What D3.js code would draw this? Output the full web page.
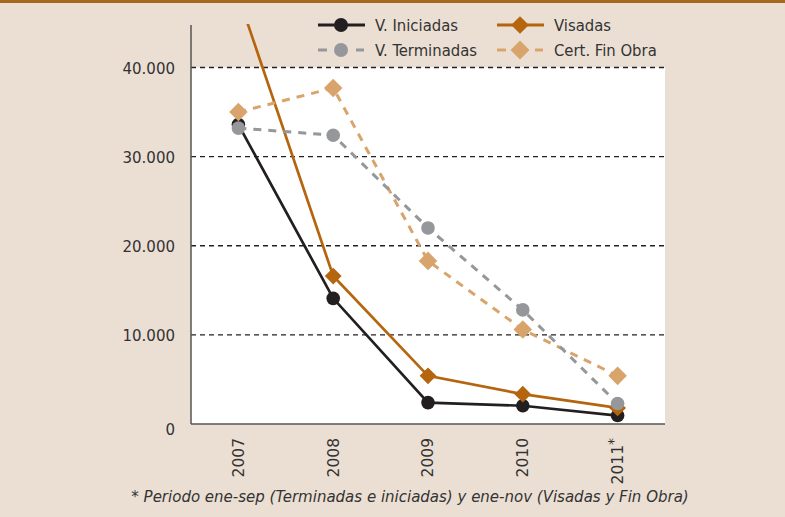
<!DOCTYPE html>
<meta charset="utf-8">
<style>
body { margin: 0; background: #ebdfd3; }
svg { display: block; }
.tick text { font-family: "DejaVu Sans", sans-serif; fill: #333; }
.legend text { font-family: "DejaVu Sans Condensed", "DejaVu Sans", sans-serif; font-size: 16.5px; fill: #333; }
.note { font-family: "DejaVu Sans", sans-serif; font-style: italic; font-size: 15px; fill: #333; }
</style>
<svg width="785" height="517"></svg>
<script src="https://d3js.org/d3.v7.min.js"></script>
<script>
var years = ["2007", "2008", "2009", "2010", "2011"];
var iniciadas = [33600, 14100, 2400, 2050, 950];
var visadas = [48000, 16600, 5400, 3350, 1800];
var terminadas = [33200, 32400, 22000, 12800, 2300];
var finObra = [35000, 37700, 18300, 10600, 5400];
var yTicks = [0, 10000, 20000, 30000, 40000];

var series = [
  {name: "V. Iniciadas", values: iniciadas, color: "#231f20", dash: null, shape: "circle"},
  {name: "Visadas", values: visadas, color: "#b5650e", dash: null, shape: "diamond"},
  {name: "Cert. Fin Obra", values: finObra, color: "#d9a46c", dash: "8,7", shape: "diamond"},
  {name: "V. Terminadas", values: terminadas, color: "#96979b", dash: "8,7", shape: "circle"}
];

var svg = d3.select("svg"),
    plotLeft = 191, plotRight = 665, plotTop = 24, plotBottom = 424;

var x = d3.scaleBand().domain(years).range([plotLeft, plotRight]);
var y = d3.scaleLinear().domain([0, 40000]).range([plotBottom, 67.5]);
var cx = function(i) { return x(years[i]) + x.bandwidth() / 2; };

// top band
svg.append("rect").attr("x", 0).attr("y", 0).attr("width", 785).attr("height", 3).attr("fill", "#a6671f");

// white plot area
svg.append("rect")
    .attr("x", plotLeft).attr("y", y(40000))
    .attr("width", plotRight - plotLeft).attr("height", plotBottom - y(40000))
    .attr("fill", "#fff");

// grid
svg.selectAll("line.grid")
  .data(yTicks.slice(1))
  .enter().append("line")
    .attr("class", "grid")
    .attr("x1", plotLeft).attr("x2", plotRight)
    .attr("y1", function(d) { return y(d); }).attr("y2", function(d) { return y(d); })
    .attr("stroke", "#222").attr("stroke-width", 1.3).attr("stroke-dasharray", "5,4");

// y axis
var yAxis = svg.append("g")
    .attr("transform", "translate(" + plotLeft + ",0)")
    .call(d3.axisLeft(y).tickValues(yTicks).tickSize(0).tickPadding(16)
      .tickFormat(function(d) { return d3.format(",")(d).replace(/,/g, "."); }));
yAxis.select(".domain").remove();
yAxis.selectAll("text").attr("font-size", 15).attr("dy", "0.4em");
yAxis.select(".tick:first-of-type text").attr("dy", "0.7em");
svg.append("line").attr("x1", plotLeft).attr("x2", plotLeft).attr("y1", 25).attr("y2", plotBottom)
    .attr("stroke", "#555").attr("stroke-width", 1.5);
svg.append("line").attr("x1", plotLeft).attr("x2", plotRight).attr("y1", plotBottom).attr("y2", plotBottom)
    .attr("stroke", "#555").attr("stroke-width", 1.5);

// x axis labels
var xAxis = svg.append("g")
    .attr("transform", "translate(0," + plotBottom + ")")
    .call(d3.axisBottom(x).tickSize(0).tickFormat(""));
xAxis.select(".domain").remove();
xAxis.selectAll(".tick").append("text")
    .attr("transform", "rotate(-90)")
    .attr("x", -14).attr("y", 0).attr("dy", "0.35em")
    .attr("text-anchor", "end")
    .attr("font-size", 15.5)
    .each(function(d) {
      var t = d3.select(this);
      t.append("tspan").text(d);
      if (d === "2011") t.append("tspan").attr("dy", "-0.35em").attr("font-size", 14).text("*");
    });

// clip
svg.append("clipPath").attr("id", "clip").append("rect")
    .attr("x", plotLeft).attr("y", plotTop).attr("width", plotRight - plotLeft).attr("height", plotBottom - plotTop + 20);

var line = d3.line().x(function(d, i) { return cx(i); }).y(function(d) { return y(d); });
var diamond = d3.symbol().type(d3.symbolDiamond2);

var plot = svg.append("g").attr("clip-path", "url(#clip)");
series.forEach(function(s) {
  var g = plot.append("g");
  g.append("path").datum(s.values)
      .attr("d", line).attr("fill", "none")
      .attr("stroke", s.color).attr("stroke-width", s.dash ? 3 : 2.7)
      .attr("stroke-dasharray", s.dash);
  s.values.forEach(function(v, i) {
    if (s.shape === "circle") {
      g.append("circle").attr("cx", cx(i)).attr("cy", y(v)).attr("r", 6.8).attr("fill", s.color);
    } else {
      g.append("path").attr("d", diamond.size(s.dash ? 220 : 180)())
          .attr("transform", "translate(" + cx(i) + "," + y(v) + ")")
          .attr("fill", s.color);
    }
  });
});

// legend
var legendItems = [
  {s: series[0], x: 318, y: 25},
  {s: series[1], x: 497, y: 25},
  {s: series[3], x: 318, y: 50},
  {s: series[2], x: 497, y: 50}
];
var lg = svg.append("g").attr("class", "legend");
legendItems.forEach(function(d) {
  var g = lg.append("g").attr("transform", "translate(" + d.x + "," + d.y + ")");
  if (d.s.dash) {
    g.append("line").attr("x1", 0).attr("x2", 9).attr("stroke", d.s.color).attr("stroke-width", 3);
    g.append("line").attr("x1", 38).attr("x2", 46).attr("stroke", d.s.color).attr("stroke-width", 3);
  } else {
    g.append("line").attr("x1", 0).attr("x2", 47).attr("stroke", d.s.color).attr("stroke-width", 3);
  }
  if (d.s.shape === "circle") {
    g.append("circle").attr("cx", 23).attr("r", 7).attr("fill", d.s.color);
  } else {
    g.append("path").attr("d", diamond.size(d.s.dash ? 230 : 200)())
        .attr("transform", "translate(23,0)").attr("fill", d.s.color);
  }
  g.append("text").attr("x", 57).attr("dy", "0.35em").text(d.s.name);
});

// footnote
svg.append("text").attr("class", "note")
    .attr("x", 410).attr("y", 502).attr("text-anchor", "middle")
    .text("* Periodo ene-sep (Terminadas e iniciadas) y ene-nov (Visadas y Fin Obra)");
</script>
